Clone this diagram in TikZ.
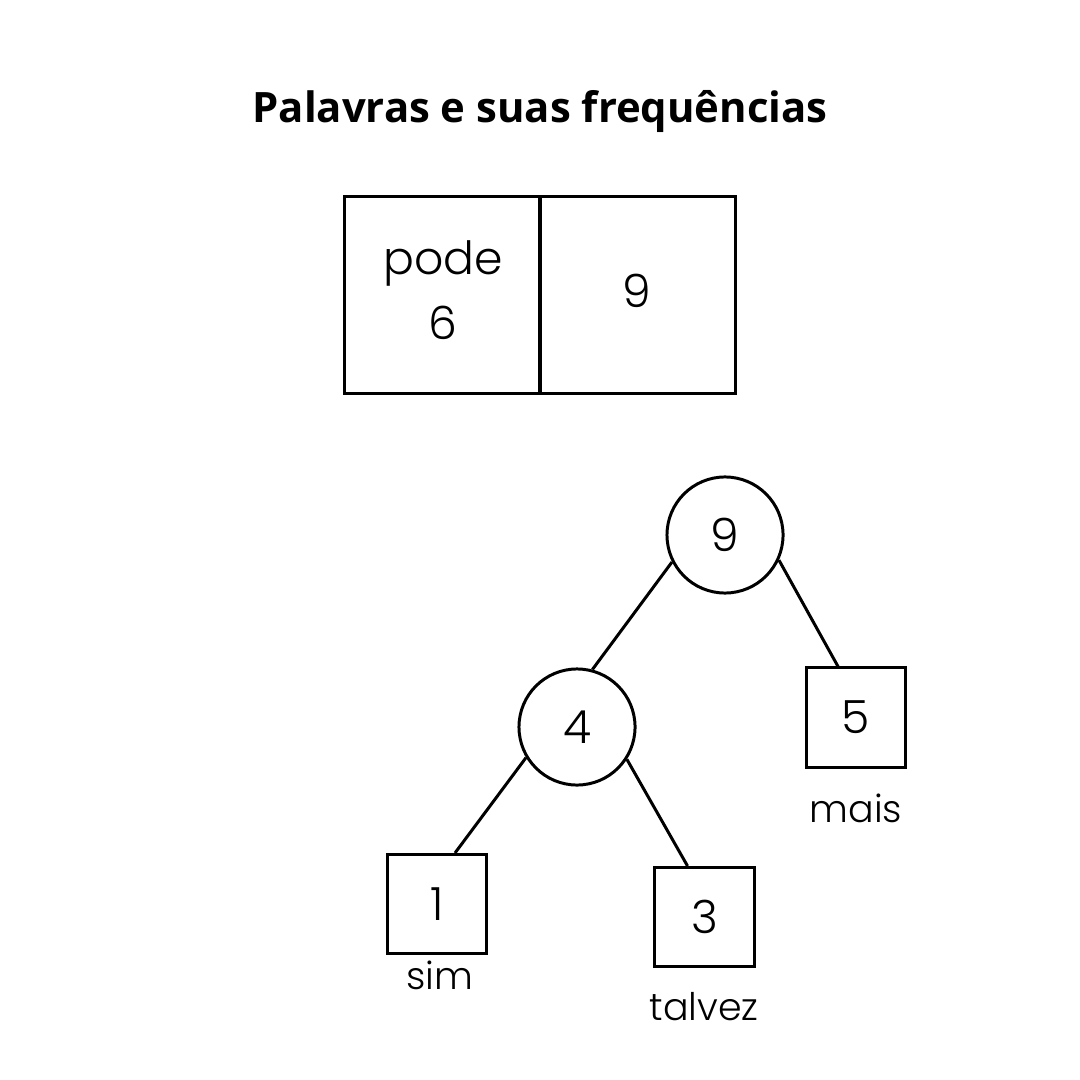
\documentclass[tikz,border=0pt]{standalone}
\usepackage{fontspec}
\setmainfont{Poppins Light}
\newfontfamily\titlefont{Open Sans}
\usetikzlibrary{calc}
\tikzset{
  ln/.style={line width=0.85pt},
  lbl/.style={font=\fontsize{10.8}{13}\selectfont, inner sep=0pt},
  numfont/.style={font=\fontsize{13}{18.3}\selectfont},
  halfbox/.style={ln, draw, minimum width=1.95cm, minimum height=1.96cm, inner sep=0pt},
  treecirc/.style={ln, draw, circle, minimum size=1.16cm, inner sep=0pt, numfont},
  leaf/.style={ln, draw, minimum size=0.99cm, inner sep=0pt, numfont},
}
\begin{document}
\begin{tikzpicture}[x=0.01cm,y=-0.01cm]
\useasboundingbox[fill=white] (0,0) rectangle (1080,1080);
\node[font=\titlefont\bfseries\fontsize{11.9}{14}\selectfont] (title) at (540,112) {Palavras e suas frequências};
\node[halfbox] (lbox) at (442.5,295) {};
\node[halfbox] (rbox) at (637.5,295) {};
\node[numfont, align=center, inner sep=0pt] (tpode) at (443,290) {pode\\6};
\node[numfont, inner sep=0pt] (t9) at (637,291) {9};
\node[treecirc] (n9) at (725,535) {9};
\node[treecirc] (n4) at (577,727) {4};
\node[leaf] (s5) at (856,717.5) {5};
\node[leaf] (s1) at (437,904) {1};
\node[leaf] (s3) at (704.5,917) {3};
\node[lbl] (lmais) at (856,808) {mais};
\node[lbl] (lsim) at (440,975) {sim};
\node[lbl] (ltalvez) at (704,1007) {talvez};
\draw[ln] (n9.207) -- (n4.75);
\draw[ln] (n9.335) -- ($(s5.north)+(-18,0)$);
\draw[ln] (n4.211) -- ($(s1.north)+(18,0)$);
\draw[ln] (n4.327) -- ($(s3.north)+(-17,0)$);
\end{tikzpicture}
\end{document}
